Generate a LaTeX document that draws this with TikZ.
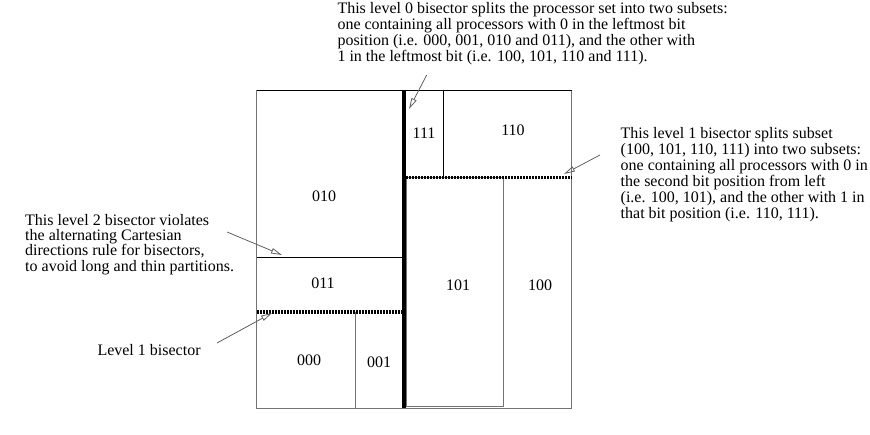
\documentclass[tikz,border=0pt]{standalone}
\usepackage{fontspec}
\setmainfont{Liberation Serif}
\usetikzlibrary{arrows.meta}
\begin{document}
\begin{tikzpicture}[x=1pt,y=-1pt,
  note/.style={anchor=north west,inner sep=0pt,align=left,font=\fontsize{16}{16}\selectfont},
  lbl/.style={inner sep=0pt,font=\fontsize{16}{16}\selectfont},
  thin/.style={draw=gray!90!black,line width=0.9pt},
  thinb/.style={draw=black,line width=0.9pt},
  bisect/.style={draw=black,line width=3.8pt,dash pattern=on 2pt off 1pt},
  thickline/.style={draw=black,line width=4pt},
  pointer/.style={draw=gray!75!black,line width=0.8pt,-{Triangle[open,length=11pt,width=5.5pt,line width=0.8pt]}}]
\useasboundingbox (0,0) rectangle (870,435);
% corners
\coordinate (tl) at (256.5,90);
\coordinate (br) at (571.5,408);
\draw[thin] (tl) rectangle (br);
\draw[thinb] (256.5,90) -- (571.5,90);
% inner partitions
\draw[thinb] (256.5,257.3) -- (404,257.3);
\draw[thinb] (443.7,90) -- (443.7,177.5);
\draw[thin] (406,177.5) rectangle (503.3,406.7);
\draw[thin] (355,311.7) -- (355,408);
% bisectors
\draw[thickline] (404,90) -- (404,408);
\draw[bisect] (406,177.5) -- (571.5,177.5);
\draw[bisect] (256.5,311.7) -- (402,311.7);
% region labels
\node[lbl] (p111) at (424,133) {111};
\node[lbl] (p110) at (513,130) {110};
\node[lbl] (p010) at (324,196) {010};
\node[lbl] (p011) at (323,283) {011};
\node[lbl] (p101) at (458,285) {101};
\node[lbl] (p100) at (540,285) {100};
\node[lbl] (p000) at (309,360) {000};
\node[lbl] (p001) at (379,362) {001};
% notes
\node[note] (n0) at (337.3,2.4) {This level 0 bisector splits the processor set into two subsets:\\
one containing all processors with 0 in the leftmost bit\\
position (i.e. 000, 001, 010 and 011), and the other with\\
1 in the leftmost bit (i.e. 100, 101, 110 and 111).};
\node[note] (n1) at (620.5,127.3) {This level 1 bisector splits subset\\
(100, 101, 110, 111) into two subsets:\\
one containing all processors with 0 in\\
the second bit position from left\\
(i.e. 100, 101), and the other with 1 in\\
that bit position (i.e. 110, 111).};
\node[note,font=\fontsize{16}{15.3}\selectfont] (n2) at (25,214) {This level 2 bisector violates\\
the alternating Cartesian\\
directions rule for bisectors,\\
to avoid long and thin partitions.};
\node[note] (n3) at (97.3,344) {Level 1 bisector};
% pointers
\coordinate (a0s) at (426.7,75);
\coordinate (a0e) at (409,109);
\coordinate (a1s) at (600,155);
\coordinate (a1e) at (564,174);
\coordinate (a2s) at (227,232);
\coordinate (a2e) at (282,255);
\coordinate (a3s) at (217,343);
\coordinate (a3e) at (272,313);
\draw[pointer] (a0s) -- (a0e);
\draw[pointer] (a1s) -- (a1e);
\draw[pointer] (a2s) -- (a2e);
\draw[pointer] (a3s) -- (a3e);
\end{tikzpicture}
\end{document}
